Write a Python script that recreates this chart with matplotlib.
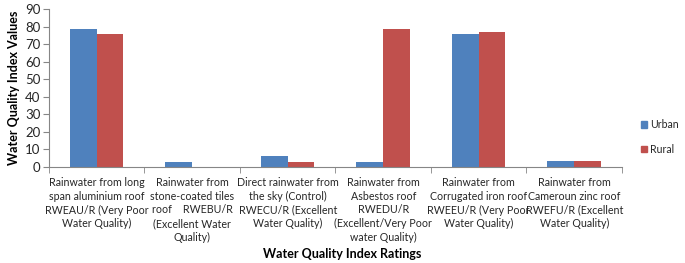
import matplotlib
matplotlib.use("Agg")
import matplotlib.pyplot as plt
import numpy as np
from matplotlib.patches import Patch

categories = [
    "Rainwater from long\nspan aluminium roof\nRWEAU/R (Very Poor\nWater Quality)",
    "Rainwater from\nstone-coated tiles\nroof    RWEBU/R\n(Excellent Water\nQuality)",
    "Direct rainwater from\nthe sky (Control)\nRWECU/R (Excellent\nWater Quality)",
    "Rainwater from\nAsbestos roof\nRWEDU/R\n(Excellent/Very Poor\nwater Quality)",
    "Rainwater from\nCorrugated iron roof\nRWEEU/R (Very Poor\nWater Quality)",
    "Rainwater from\nCameroun zinc roof\nRWEFU/R (Excellent\nWater Quality)",
]
urban = [78.3, 2.7, 6.0, 2.7, 76.0, 3.4]
rural = [75.5, 0.0, 2.8, 78.4, 76.7, 3.4]
yticks = [0, 10, 20, 30, 40, 50, 60, 70, 80, 90]

plt.rcParams['font.family'] = ['Lato', 'DejaVu Sans']
txt = '#262626'
fig = plt.figure(figsize=(6.85, 2.63), dpi=100)
ax = fig.add_axes([0.0715, 0.365, 0.8365, 0.601])

x = np.arange(len(categories))
w = 0.28
ax.bar(x - w/2, urban, w, color='#4F81BD', label='Urban')
ax.bar(x + w/2, rural, w, color='#C0504D', label='Rural')

ax.set_xlim(-0.5, len(categories) - 0.5)
ax.set_ylim(0, 90)
ax.set_yticks(yticks)
ax.tick_params(axis='y', labelsize=9.5, length=4, color='#868686', pad=2, labelcolor=txt)
ax.set_xticks(x)
ax.set_xticklabels(categories, fontsize=7.7, linespacing=1.32, color=txt)
ax.tick_params(axis='x', length=0, pad=7)
ax.set_xticks(np.arange(-0.5, len(categories), 1.0), minor=True)
ax.tick_params(axis='x', which='minor', length=4, color='#868686')

for s in ['top', 'right']:
    ax.spines[s].set_visible(False)
for s in ['left', 'bottom']:
    ax.spines[s].set_color('#868686')

ax.set_ylabel('Water Quality Index Values', fontsize=9, fontweight='bold', labelpad=4, color='black')
fig.text(0.5, 0.018, 'Water Quality Index Ratings', ha='center', fontsize=9, fontweight='bold')

handles = [Patch(color='#4F81BD'), Patch(color='#C0504D')]
fig.legend(handles, ['Urban', 'Rural'], loc='center left', bbox_to_anchor=(0.925, 0.48),
           frameon=False, fontsize=7.6, handlelength=0.6, handleheight=0.6,
           handletextpad=0.25, labelspacing=1.3, labelcolor=txt, borderpad=0.2)

fig.savefig('out.png', dpi=100)
